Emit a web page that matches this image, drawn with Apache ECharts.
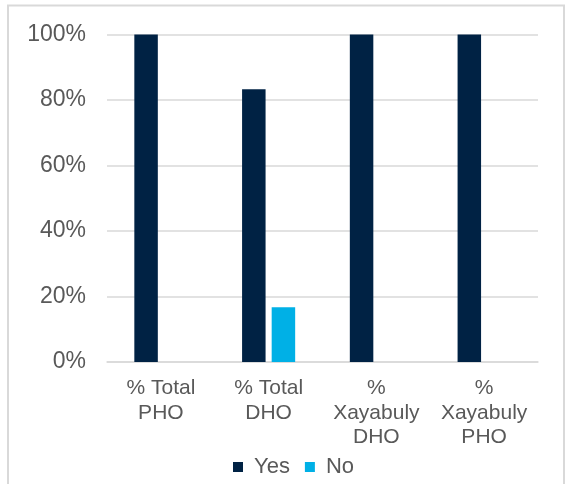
<!DOCTYPE html>
<html>
<head>
<meta charset="utf-8">
<script src="https://cdn.jsdelivr.net/npm/echarts@6/dist/echarts.min.js"></script>
<style>
  html, body { margin: 0; padding: 0; background: #ffffff; }
  #chart { width: 566px; height: 484px; }
</style>
</head>
<body>
<div id="chart"></div>
<script>
// Facility categories along the x axis
const categories = ['% Total\nPHO', '% Total\nDHO', '%\nXayabuly\nDHO', '%\nXayabuly\nPHO'];
// Share of facilities answering Yes / No (percent)
const yesValues = [100, 83.3, 100, 100];
const noValues = [0, 16.7, 0, 0];
// Value axis ticks
const yTicks = [0, 20, 40, 60, 80, 100];

const textColor = '#595959';
const lineColor = '#d9d9d9';
const fontFamily = '"Liberation Sans", Arial, sans-serif';

const chart = echarts.init(document.getElementById('chart'), null, { renderer: 'canvas' });
chart.setOption({
  backgroundColor: '#ffffff',
  animation: false,
  graphic: [{
    type: 'rect',
    shape: { x: 8, y: 5.5, width: 556, height: 500 },
    style: { fill: 'none', stroke: lineColor, lineWidth: 2 },
    silent: true
  }],
  grid: { left: 107, right: 28, top: 34.5, bottom: 122, containLabel: false },
  legend: {
    data: ['Yes', 'No'],
    top: 451,
    left: 228,
    icon: 'rect',
    itemWidth: 10,
    itemHeight: 10,
    itemGap: 15,
    textStyle: { color: textColor, fontSize: 22, fontFamily: fontFamily, padding: [0, 0, 0, 6] }
  },
  xAxis: {
    type: 'category',
    data: categories,
    axisLine: { show: true, lineStyle: { color: lineColor, width: 1.5 } },
    axisTick: { show: false },
    axisLabel: {
      color: textColor, fontSize: 21, fontFamily: fontFamily,
      lineHeight: 24.5, margin: 14, interval: 0
    }
  },
  yAxis: {
    type: 'value',
    min: yTicks[0],
    max: yTicks[yTicks.length - 1],
    interval: yTicks[1] - yTicks[0],
    axisLine: { show: false },
    axisTick: { show: false },
    splitLine: { lineStyle: { color: lineColor, width: 1.5 } },
    axisLabel: {
      color: textColor, fontSize: 23, fontFamily: fontFamily, margin: 21,
      formatter: v => v + '%'
    }
  },
  series: [
    {
      name: 'Yes', type: 'bar', data: yesValues,
      barWidth: '21.8%', barGap: '26%',
      itemStyle: { color: '#002244' }
    },
    {
      name: 'No', type: 'bar', data: noValues,
      barWidth: '21.8%', barGap: '26%',
      itemStyle: { color: '#00b0e6' }
    }
  ]
});
</script>
</body>
</html>
